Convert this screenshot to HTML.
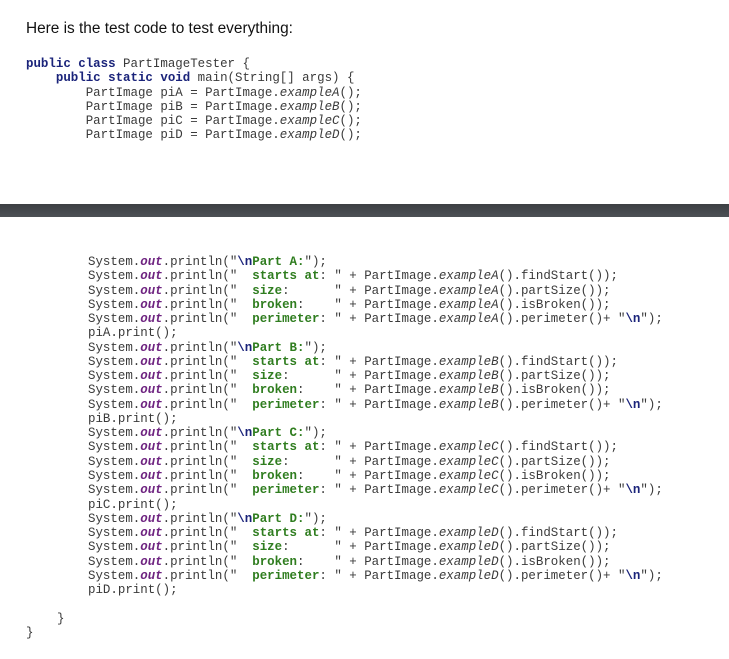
<!DOCTYPE html>
<html><head><meta charset="utf-8"><style>
body{margin:0;width:729px;height:659px;background:#fff;position:relative;overflow:hidden}
.h{position:absolute;left:26px;top:20px;font:15.4px "Liberation Sans",Arial,sans-serif;color:#111}
pre{position:absolute;margin:0;font:12.45px/14.26px "Liberation Mono",monospace;color:#3a3a3a}
.k{color:#1a237a;font-weight:bold}
.o{color:#6e2380;font-weight:bold;font-style:italic}
.s{color:#2f7d1f;font-weight:bold}
.e{color:#1a237a;font-weight:bold}
i{font-style:italic}
.bar{position:absolute;left:0;top:204px;width:729px;height:13px;background:linear-gradient(#3c3f43,#4c5055)}
</style></head><body>
<div class="h">Here is the test code to test everything:</div>
<pre style="left:26px;top:57px"><span class="k">public class</span> PartImageTester {
    <span class="k">public static void</span> main(String[] args) {
        PartImage piA = PartImage.<i>exampleA</i>();
        PartImage piB = PartImage.<i>exampleB</i>();
        PartImage piC = PartImage.<i>exampleC</i>();
        PartImage piD = PartImage.<i>exampleD</i>();</pre>
<div class="bar"></div>
<pre style="left:88px;top:255px">System.<span class="o">out</span>.println("<span class="e">\n</span><span class="s">Part A:</span>");
System.<span class="o">out</span>.println("  <span class="s">starts at</span>: " + PartImage.<i>exampleA</i>().findStart());
System.<span class="o">out</span>.println("  <span class="s">size</span>:      " + PartImage.<i>exampleA</i>().partSize());
System.<span class="o">out</span>.println("  <span class="s">broken</span>:    " + PartImage.<i>exampleA</i>().isBroken());
System.<span class="o">out</span>.println("  <span class="s">perimeter</span>: " + PartImage.<i>exampleA</i>().perimeter()+ "<span class="e">\n</span>");
piA.print();
System.<span class="o">out</span>.println("<span class="e">\n</span><span class="s">Part B:</span>");
System.<span class="o">out</span>.println("  <span class="s">starts at</span>: " + PartImage.<i>exampleB</i>().findStart());
System.<span class="o">out</span>.println("  <span class="s">size</span>:      " + PartImage.<i>exampleB</i>().partSize());
System.<span class="o">out</span>.println("  <span class="s">broken</span>:    " + PartImage.<i>exampleB</i>().isBroken());
System.<span class="o">out</span>.println("  <span class="s">perimeter</span>: " + PartImage.<i>exampleB</i>().perimeter()+ "<span class="e">\n</span>");
piB.print();
System.<span class="o">out</span>.println("<span class="e">\n</span><span class="s">Part C:</span>");
System.<span class="o">out</span>.println("  <span class="s">starts at</span>: " + PartImage.<i>exampleC</i>().findStart());
System.<span class="o">out</span>.println("  <span class="s">size</span>:      " + PartImage.<i>exampleC</i>().partSize());
System.<span class="o">out</span>.println("  <span class="s">broken</span>:    " + PartImage.<i>exampleC</i>().isBroken());
System.<span class="o">out</span>.println("  <span class="s">perimeter</span>: " + PartImage.<i>exampleC</i>().perimeter()+ "<span class="e">\n</span>");
piC.print();
System.<span class="o">out</span>.println("<span class="e">\n</span><span class="s">Part D:</span>");
System.<span class="o">out</span>.println("  <span class="s">starts at</span>: " + PartImage.<i>exampleD</i>().findStart());
System.<span class="o">out</span>.println("  <span class="s">size</span>:      " + PartImage.<i>exampleD</i>().partSize());
System.<span class="o">out</span>.println("  <span class="s">broken</span>:    " + PartImage.<i>exampleD</i>().isBroken());
System.<span class="o">out</span>.println("  <span class="s">perimeter</span>: " + PartImage.<i>exampleD</i>().perimeter()+ "<span class="e">\n</span>");
piD.print();</pre>
<pre style="left:57px;top:612px">}</pre>
<pre style="left:26px;top:626px">}</pre>
</body></html>
